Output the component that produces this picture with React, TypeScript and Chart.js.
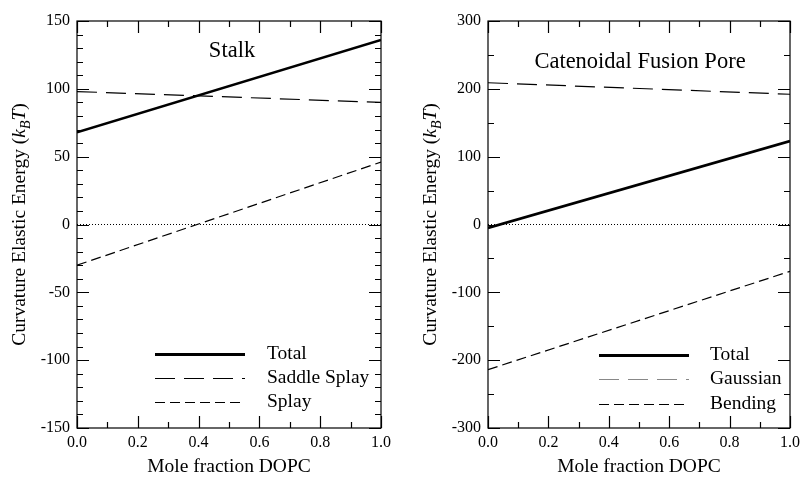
import React, { useEffect, useRef } from "react";
import { Chart, registerables } from "chart.js";

Chart.register(...registerables);

// ---------- data ----------
const xValues = [0, 1];
const stalkTotal = [68, 136];
const stalkSaddleSplay = [98, 90];
const stalkSplay = [-30, 46];
const poreTotal = [-5, 123];
const poreGaussian = [209, 192];
const poreBending = [-214, -69];
const zeroLine = [0, 0];

const stalkLegend = ["Total", "Saddle Splay", "Splay"];
const poreLegend = ["Total", "Gaussian", "Bending"];

const FONT = "'Liberation Serif', 'Times New Roman', serif";

type Panel = {
  title: string;
  titleX: number;
  titleY: number;
  series: number[][];
  legend: string[];
  legendColors: string[];
  yMin: number;
  yMax: number;
  yMajor: number;
  yMinor: number;
  width: number;
  plotLeft: number;
  plotRight: number;
  legendLineX: [number, number];
  legendTextX: number;
  legendRows: number[];
  yTitleX: number;
};

const HEIGHT = 477;
const PLOT_TOP = 21;
const PLOT_BOTTOM = 428;

const dashes: (number[])[] = [[], [20, 9], [10, 5]];
const widths = [2.6, 1.2, 1.2];

function pts(ys: number[]) {
  return xValues.map((x, i) => ({ x, y: ys[i] }));
}

function makeConfig(p: Panel): any {
  const datasets: any[] = p.series.map((s, i) => ({
    data: pts(s),
    borderColor: "#000",
    borderWidth: widths[i],
    borderDash: dashes[i],
    pointRadius: 0,
    fill: false,
    tension: 0,
  }));
  datasets.push({
    data: pts(zeroLine),
    borderColor: "#000",
    borderWidth: 1,
    borderDash: [1, 2],
    pointRadius: 0,
    fill: false,
  });

  const decor = {
    id: "decor",
    afterDraw(chart: any) {
      const ctx = chart.ctx as CanvasRenderingContext2D;
      const a = chart.chartArea;
      const xs = chart.scales.x;
      const ys = chart.scales.y;
      ctx.save();
      ctx.strokeStyle = "#000";
      ctx.lineWidth = 1.2;
      ctx.setLineDash([]);
      ctx.strokeRect(a.left, a.top, a.right - a.left, a.bottom - a.top);
      // x ticks
      for (let i = 0; i <= 10; i++) {
        const px = Math.round(xs.getPixelForValue(i / 10)) + 0.5;
        const len = i % 2 === 0 ? 12 : 6;
        ctx.beginPath();
        ctx.moveTo(px, a.bottom);
        ctx.lineTo(px, a.bottom - len);
        ctx.moveTo(px, a.top);
        ctx.lineTo(px, a.top + len);
        ctx.stroke();
      }
      // y ticks
      for (let v = p.yMin; v <= p.yMax; v += p.yMinor) {
        const py = Math.round(ys.getPixelForValue(v)) + 0.5;
        const len = v % p.yMajor === 0 ? 12 : 6;
        ctx.beginPath();
        ctx.moveTo(a.left, py);
        ctx.lineTo(a.left + len, py);
        ctx.moveTo(a.right, py);
        ctx.lineTo(a.right - len, py);
        ctx.stroke();
      }
      // title
      ctx.fillStyle = "#000";
      ctx.font = `22.5px ${FONT}`;
      ctx.textAlign = "center";
      ctx.textBaseline = "middle";
      ctx.fillText(p.title, p.titleX, p.titleY);
      // x axis title
      ctx.font = `19.5px ${FONT}`;
      ctx.fillText("Mole fraction DOPC", (a.left + a.right) / 2, 467);
      // legend
      ctx.font = `19.5px ${FONT}`;
      ctx.textAlign = "left";
      p.legend.forEach((lab, i) => {
        const y = p.legendRows[i];
        ctx.strokeStyle = p.legendColors[i];
        ctx.lineWidth = i === 0 ? 2.8 : 1.2;
        ctx.setLineDash(dashes[i]);
        ctx.beginPath();
        ctx.moveTo(p.legendLineX[0], y + 0.5);
        ctx.lineTo(p.legendLineX[1], y + 0.5);
        ctx.stroke();
        ctx.setLineDash([]);
        ctx.fillStyle = "#000";
        ctx.fillText(lab, p.legendTextX, y);
      });
      // y axis title (rotated, with subscript)
      const cy = (a.top + a.bottom) / 2;
      ctx.translate(p.yTitleX, cy);
      ctx.rotate(-Math.PI / 2);
      const parts: [string, string, number][] = [
        ["Curvature Elastic Energy (", `19.5px ${FONT}`, 0],
        ["k", `italic 19.5px ${FONT}`, 0],
        ["B", `italic 14px ${FONT}`, 5],
        ["T", `italic 19.5px ${FONT}`, 0],
        [")", `19.5px ${FONT}`, 0],
      ];
      let total = 0;
      const ws = parts.map(([t, f]) => {
        ctx.font = f;
        const w = ctx.measureText(t).width;
        total += w;
        return w;
      });
      let x = -total / 2;
      ctx.textAlign = "left";
      ctx.textBaseline = "alphabetic";
      parts.forEach(([t, f, dy], i) => {
        ctx.font = f;
        ctx.fillText(t, x, 7 + dy);
        x += ws[i];
      });
      ctx.restore();
    },
  };

  return {
    type: "line",
    data: { datasets },
    options: {
      animation: false,
      responsive: false,
      devicePixelRatio: 1,
      layout: {
        padding: { top: PLOT_TOP, left: 0, right: p.width - p.plotRight, bottom: 0 },
      },
      plugins: { legend: { display: false }, tooltip: { enabled: false } },
      scales: {
        x: {
          type: "linear",
          min: 0,
          max: 1,
          grid: { display: false, drawTicks: false },
          border: { display: false },
          ticks: {
            stepSize: 0.2,
            padding: 5,
            color: "#000",
            font: { family: FONT, size: 16 },
            maxRotation: 0,
            callback: (v: any) => Number(v).toFixed(1),
          },
          afterFit: (s: any) => {
            s.height = HEIGHT - PLOT_BOTTOM;
          },
        },
        y: {
          type: "linear",
          min: p.yMin,
          max: p.yMax,
          grid: { display: false, drawTicks: false },
          border: { display: false },
          ticks: {
            stepSize: p.yMajor,
            padding: 7,
            color: "#000",
            font: { family: FONT, size: 16 },
            callback: (v: any) => String(v),
          },
          afterFit: (s: any) => {
            s.width = p.plotLeft;
          },
        },
      },
    },
    plugins: [decor],
  };
}

const stalkPanel: Panel = {
  title: "Stalk",
  titleX: 232,
  titleY: 51,
  series: [stalkTotal, stalkSaddleSplay, stalkSplay],
  legend: stalkLegend,
  legendColors: ["#000", "#000", "#000"],
  yMin: -150,
  yMax: 150,
  yMajor: 50,
  yMinor: 10,
  width: 400,
  plotLeft: 77,
  plotRight: 381,
  legendLineX: [155, 245],
  legendTextX: 267,
  legendRows: [354, 378, 402],
  yTitleX: 18,
};

const porePanel: Panel = {
  title: "Catenoidal Fusion Pore",
  titleX: 240,
  titleY: 62,
  series: [poreTotal, poreGaussian, poreBending],
  legend: poreLegend,
  legendColors: ["#000", "#888", "#000"],
  yMin: -300,
  yMax: 300,
  yMajor: 100,
  yMinor: 50,
  width: 405,
  plotLeft: 88,
  plotRight: 393,
  legendLineX: [199, 289],
  legendTextX: 310,
  legendRows: [355, 379, 404],
  yTitleX: 29,
};

function PanelChart({ panel, left }: { panel: Panel; left: number }) {
  const ref = useRef<HTMLCanvasElement | null>(null);
  useEffect(() => {
    if (!ref.current) return;
    const chart = new Chart(ref.current, makeConfig(panel));
    return () => chart.destroy();
  }, [panel]);
  return (
    <canvas
      ref={ref}
      width={panel.width}
      height={HEIGHT}
      style={{ position: "absolute", left, top: 0, width: panel.width, height: HEIGHT, display: "block" }}
    />
  );
}

export default function App() {
  useEffect(() => {
    document.body.style.margin = "0";
  }, []);
  return (
    <div style={{ position: "absolute", left: 0, top: 0, width: 805, height: HEIGHT, background: "#fff" }}>
      <PanelChart panel={stalkPanel} left={0} />
      <PanelChart panel={porePanel} left={400} />
    </div>
  );
}
